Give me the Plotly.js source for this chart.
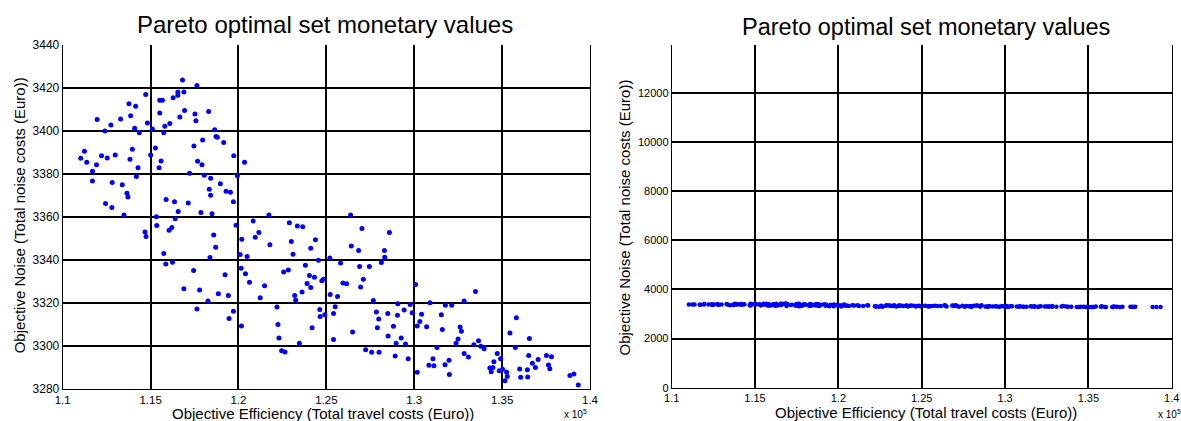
<!DOCTYPE html>
<html>
<head>
<meta charset="utf-8">
<script src="https://cdn.plot.ly/plotly-3.0.1.min.js"></script>
<style>html,body{margin:0;padding:0;background:#fff;}#chart{width:1181px;height:421px;}</style>
</head>
<body>
<div id="chart"></div>
<script>
// Objective Efficiency (total travel costs, Euro)
const travelCosts = [
116817,117636,114722,116551,116551,116893,116284,115522,115674,113770,114151,111960,112741,113293,113865,115522,116932,116665,117522,117579,
118303,114817,114093,114360,115103,115808,116093,115750,112398,118646,118722,118798,117960,119160,117465,111236,111027,111370,112208,112531,
112989,113960,115274,115007,113827,115598,115484,114284,111922,111693,111693,114189,112817,113389,117674,117922,117217,118055,118417,119731,
119941,118341,118417,118970,119293,119541,119712,113655,113712,112436,112798,113484,115884,116360,117141,116570,117865,118494,115331,116398,
120343,
115351,116055,116208,114684,114741,118589,118703,118379,119865,120189,120094,120151,115751,115865,116246,117446,119236,116893,117789,118856,
119427,118265,117636,119713,119465,120170,
121731,120836,122893,123350,123655,121160,120950,121789,123008,124379,124112,123103,120493,126379,127027,128589,126417,126836,128303,128322,
125198,
120398,120627,121484,121236,122570,122836,123808,124550,124036,124322,123903,124112,123617,123198,123255,124741,124836,122189,122246,122303,
122455,122646,123465,124189,124627,124646,124913,125808,126893,127446,127103,126951,125941,126151,125217,125636,127674,125503,125408,126494,
125408,127236,127579,127998,128913,129655,128131,129065,129770,127846,128494,129046,129427,129884,127979,127903,128818,128513,129256,128970,
129503,
130075,133484,130894,131770,132132,132837,130417,131541,130322,130170,130703,131598,132608,132684,132494,132379,133656,133389,133789,133979,
131294,132837,133084,134722,134913,134532,134303,134475,134379,134836,135027,135256,135294,135160,131065,130836,131122,131751,131979,131998,
130170,135808,135446,136551,135751,136513,137046,136722,136894,135999,136437,136056,136456,137522,137808,137636,137713,138856,139084,139332
];
// Objective Noise (total noise costs, Euro)
const noiseCosts = [
3423.7,3421.1,3416.9,3418.1,3416.6,3418.1,3415.5,3414.3,3414.3,3412.7,3411.5,3405.3,3402.8,3405.6,3407.1,3408.4,3409.5,3406.5,3407.9,3404.7,
3409.1,3403.7,3401.2,3399.1,3400.9,3402.2,3403.4,3399.2,3400.0,3400.5,3397.4,3397.1,3395.8,3394.6,3393.0,3390.5,3387.3,3385.4,3388.4,3387.4,
3388.8,3391.5,3392.1,3388.8,3386.8,3386.0,3382.8,3382.9,3384.2,3381.2,3376.7,3378.8,3376.0,3374.9,3385.9,3384.3,3380.3,3379.4,3378.0,3388.4,
3379.1,3372.9,3370.1,3375.4,3371.9,3371.5,3367.0,3371.0,3369.2,3366.2,3364.3,3360.9,3368.1,3367.0,3366.5,3362.5,3362.0,3361.4,3360.1,3359.1,
3385.4,
3356.0,3353.8,3355.0,3353.0,3350.8,3351.5,3345.9,3341.1,3356.1,3349.6,3342.5,3336.1,3342.9,3338.1,3338.9,3335.0,3333.0,3326.5,3325.9,3324.2,
3323.4,3320.8,3317.1,3316.0,3312.7,3309.2,
3360.9,3358.1,3357.2,3355.7,3355.4,3352.7,3350.5,3347.0,3348.5,3349.3,3345.4,3342.6,3341.6,3360.9,3354.6,3352.7,3346.4,3344.3,3344.3,3341.2,
3340.9,
3333.5,3329.5,3327.9,3322.3,3334.3,3335.2,3337.5,3339.8,3332.7,3331.9,3329.0,3327.1,3325.0,3323.4,3321.2,3330.2,3331.0,3318.0,3309.9,3303.6,
3297.7,3297.1,3301.2,3308.4,3316.9,3313.6,3314.4,3338.5,3336.9,3336.9,3331.0,3327.4,3329.2,3328.8,3323.9,3322.9,3321.1,3318.1,3315.0,3306.4,
3302.9,3298.1,3297.0,3297.0,3295.2,3293.9,3338.8,3319.5,3319.2,3315.7,3315.0,3314.2,3316.6,3315.3,3312.4,3308.4,3309.1,3304.5,3303.6,3301.2,
3300.8,
3328.5,3325.3,3320.0,3318.9,3318.9,3320.8,3314.7,3314.4,3311.3,3309.2,3308.8,3307.6,3308.7,3306.8,3303.1,3301.2,3302.3,3300.5,3299.8,3298.6,
3299.2,3296.4,3294.7,3296.4,3293.9,3292.6,3289.6,3289.9,3287.9,3288.4,3289.1,3287.6,3285.7,3283.7,3293.9,3290.9,3290.7,3291.2,3293.3,3286.6,
3287.6,3313.0,3305.9,3303.4,3299.2,3295.5,3293.6,3291.8,3289.9,3289.2,3288.8,3285.3,3285.4,3295.5,3294.9,3291.0,3289.3,3286.2,3286.8,3281.7
];

const xTickVals = [110000,115000,120000,125000,130000,135000,140000];
const xTickText = ['1.1','1.15','1.2','1.25','1.3','1.35','1.4'];
const yTickValsZoom = [3280,3300,3320,3340,3360,3380,3400,3420,3440];
const yTickTextZoom = ['3280','3300','3320','3340','3360','3380','3400','3420','3440'];
const yTickValsFull = [0,2000,4000,6000,8000,10000,12000];
const yTickTextFull = ['0','2000','4000','6000','8000','10000','12000'];

const chartTitle = 'Pareto optimal set monetary values';
const xTitle = 'Objective Efficiency (Total travel costs (Euro))';
const yTitle = 'Objective Noise (Total noise costs (Euro))';
const expLabel = 'x 10<sup>5</sup>';

const W = 1181, H = 421;
const FONT = 'Arial, "Liberation Sans", Helvetica, sans-serif';

function axisBase(extra) {
  return Object.assign({
    showline: true, linecolor: '#000', linewidth: 1,
    ticks: 'inside', ticklen: 4, tickcolor: '#000', tickwidth: 1,
    showgrid: true, gridcolor: '#000', gridwidth: 2,
    zeroline: false, fixedrange: true,
    tickfont: {family: FONT, size: 12, color: '#000'}
  }, extra);
}

const traces = [
  {x: travelCosts, y: noiseCosts, type: 'scatter', mode: 'markers',
   marker: {color: '#0000ff', size: 5, line: {width: 0}}, xaxis: 'x', yaxis: 'y', hoverinfo: 'skip'},
  {x: travelCosts, y: noiseCosts, type: 'scatter', mode: 'markers',
   marker: {color: '#0000ff', size: 4.5, line: {width: 0}}, xaxis: 'x2', yaxis: 'y2', hoverinfo: 'skip'}
];

const layout = {
  width: W, height: H,
  margin: {l: 0, r: 0, t: 0, b: 0},
  paper_bgcolor: '#fff', plot_bgcolor: '#fff',
  showlegend: false,
  font: {family: FONT, color: '#000'},
  xaxis: axisBase({domain: [62.7/W, 590/W], range: [110000, 140000], anchor: 'y',
    tickvals: xTickVals, ticktext: xTickText, tickfont: {family: FONT, size: 11.5, color: '#000'}}),
  yaxis: axisBase({domain: [1-388.7/H, 1-45/H], range: [3280, 3440], anchor: 'x', mirror: true,
    tickvals: yTickValsZoom, ticktext: yTickTextZoom}),
  xaxis2: axisBase({domain: [671.7/W, 1171.7/W], range: [110000, 140000], anchor: 'y2',
    tickvals: xTickVals, ticktext: xTickText, tickfont: {family: FONT, size: 11, color: '#000'}}),
  yaxis2: axisBase({domain: [1-387.7/H, 1-45/H], range: [0, 13950], anchor: 'x2', mirror: true,
    tickvals: yTickValsFull, ticktext: yTickTextFull, tickfont: {family: FONT, size: 11, color: '#000'}}),
  annotations: [
    {text: chartTitle, xref: 'paper', yref: 'paper', x: 324.85/W, y: 1-25/H, xanchor: 'center', yanchor: 'middle',
     showarrow: false, font: {family: FONT, size: 24, color: '#000'}},
    {text: chartTitle, xref: 'paper', yref: 'paper', x: 926.2/W, y: 1-27/H, xanchor: 'center', yanchor: 'middle',
     showarrow: false, font: {family: FONT, size: 23.5, color: '#000'}},
    {text: xTitle, xref: 'paper', yref: 'paper', x: 323.3/W, y: 1-413/H, xanchor: 'center', yanchor: 'middle',
     showarrow: false, font: {family: FONT, size: 15, color: '#000'}},
    {text: xTitle, xref: 'paper', yref: 'paper', x: 925.7/W, y: 1-412/H, xanchor: 'center', yanchor: 'middle',
     showarrow: false, font: {family: FONT, size: 15, color: '#000'}},
    {text: yTitle, xref: 'paper', yref: 'paper', x: 19.8/W, y: 1-215.5/H, xanchor: 'center', yanchor: 'middle',
     textangle: -90, showarrow: false, font: {family: FONT, size: 15, color: '#000'}},
    {text: yTitle, xref: 'paper', yref: 'paper', x: 624/W, y: 1-217.5/H, xanchor: 'center', yanchor: 'middle',
     textangle: -90, showarrow: false, font: {family: FONT, size: 15, color: '#000'}},
    {text: expLabel, xref: 'paper', yref: 'paper', x: 561.7/W, y: 1-414/H, xanchor: 'left', yanchor: 'middle',
     showarrow: false, font: {family: FONT, size: 10, color: '#000'}},
    {text: expLabel, xref: 'paper', yref: 'paper', x: 1156/W, y: 1-414/H, xanchor: 'left', yanchor: 'middle',
     showarrow: false, font: {family: FONT, size: 10, color: '#000'}}
  ]
};

Plotly.newPlot('chart', traces, layout, {displayModeBar: false, staticPlot: true});
</script>
</body>
</html>
